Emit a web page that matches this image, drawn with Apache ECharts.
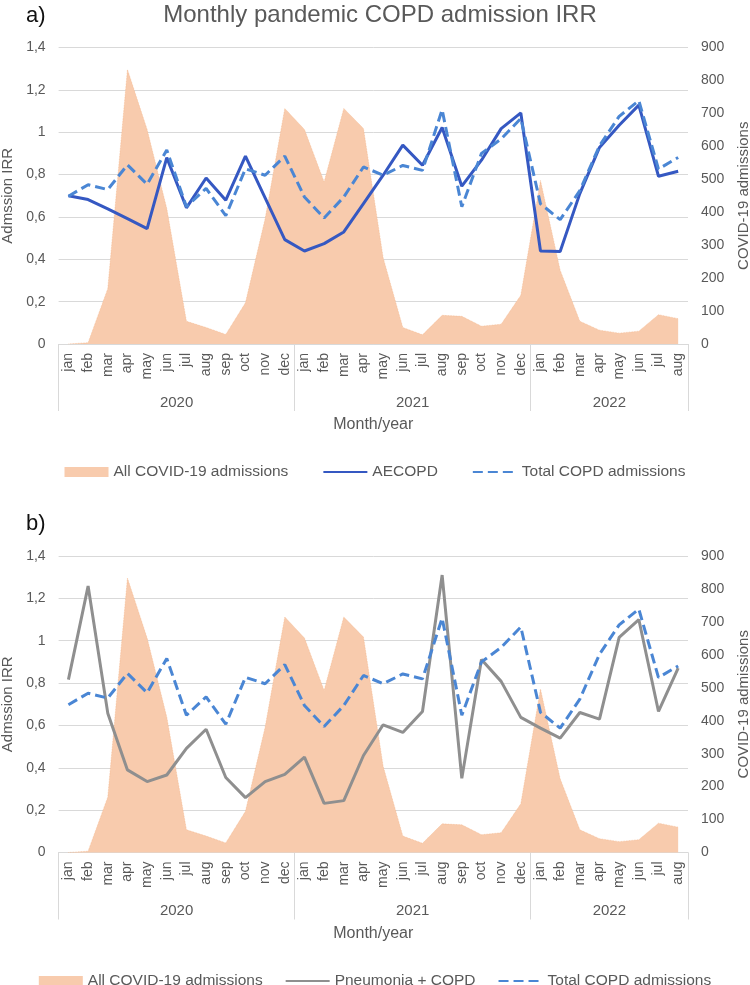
<!DOCTYPE html>
<html>
<head>
<meta charset="utf-8">
<script src="https://cdn.jsdelivr.net/npm/echarts@6/dist/echarts.min.js"></script>
<style>
  html, body { margin: 0; padding: 0; background: #fff; }
  #chart { width: 750px; height: 985px; }
</style>
</head>
<body>
<div id="chart"></div>
<script>
// month labels jan 2020 .. aug 2022
const monthNames = ['jan', 'feb', 'mar', 'apr', 'may', 'jun', 'jul', 'aug', 'sep', 'oct', 'nov', 'dec'];
const monthCats = monthNames.concat(monthNames, monthNames.slice(0, 8));
const years = ['2020', '2021', '2022'];
const yearCenters = [6, 18, 28];
const yearBreaks = [0, 12, 24, 32];

// right axis: all COVID-19 admissions
const covidAdmissions = [0, 4, 168, 833, 651, 411, 69, 50, 29, 125, 380, 715,
  651, 492, 715, 654, 262, 50, 28, 87, 84, 54, 60, 148,
  496, 224, 69, 42, 33, 39, 89, 77];

// left axis: IRR
const aecopdIrr = [0.70, 0.682, 0.638, 0.592, 0.545, 0.880, 0.643, 0.784, 0.679, 0.887, 0.69, 0.493,
  0.439, 0.474, 0.529, 0.663, 0.797, 0.939, 0.844, 1.022, 0.745, 0.868, 1.017, 1.091,
  0.439, 0.437, 0.71, 0.928, 1.033, 1.128, 0.792, 0.816];
const totalCopdIrr = [0.698, 0.752, 0.729, 0.846, 0.754, 0.916, 0.648, 0.735, 0.606, 0.827, 0.797, 0.887,
  0.694, 0.595, 0.694, 0.836, 0.797, 0.843, 0.82, 1.106, 0.648, 0.90, 0.968, 1.065,
  0.662, 0.587, 0.724, 0.936, 1.075, 1.149, 0.826, 0.881];
const pneumoniaCopdIrr = [0.816, 1.258, 0.658, 0.390, 0.335, 0.366, 0.492, 0.582, 0.354, 0.259, 0.335, 0.369,
  0.450, 0.232, 0.245, 0.458, 0.603, 0.567, 0.666, 1.310, 0.350, 0.911, 0.808, 0.638,
  0.587, 0.540, 0.661, 0.630, 1.016, 1.100, 0.666, 0.871];

const txt = '#595959';
const gridCol = '#d9d9d9';
const areaCol = '#F8CBAD';
const dashCol = '#4A86D4';
const font = 'Liberation Sans, Arial, sans-serif';

const panels = [
  { top: 47.5, tag: 'a)', tagTop: 0, legendTop: 459, legendGap: 34,
    lineName: 'AECOPD', lineData: aecopdIrr, lineColor: '#3558C2' },
  { top: 556, tag: 'b)', tagTop: 508, legendTop: 968, legendGap: 22,
    lineName: 'Pneumonia + COPD', lineData: pneumoniaCopdIrr, lineColor: '#8F8F8F' }
];

const grid = [], xAxis = [], yAxis = [], series = [], legend = [];
const title = [{
  text: 'Monthly pandemic COPD admission IRR',
  left: 375, textAlign: 'center', top: -2,
  textStyle: { fontSize: 24, fontWeight: 'normal', color: txt, fontFamily: font }
}];

panels.forEach((p, k) => {
  grid.push({ left: 58.6, right: 62, top: p.top, height: 296.5, containLabel: false, outerBoundsMode: 'none' });

  title.push({
    text: p.tag, left: 21, top: p.tagTop,
    textStyle: { fontSize: 22, fontWeight: 'normal', color: '#111', fontFamily: font }
  });

  xAxis.push({
    type: 'category', gridIndex: k, data: monthCats, boundaryGap: true,
    axisLine: { lineStyle: { color: gridCol, width: 1 } },
    axisTick: { show: false },
    axisLabel: { interval: 0, rotate: 90, margin: 9, fontSize: 14, color: txt, fontFamily: font }
  });
  xAxis.push({
    type: 'value', gridIndex: k, position: 'bottom', min: 0, max: 32,
    axisLine: { show: false },
    splitLine: { show: false },
    axisTick: { show: true, length: 67, customValues: yearBreaks, lineStyle: { color: gridCol } },
    axisLabel: {
      customValues: yearCenters, margin: 51, fontSize: 15, color: txt, fontFamily: font,
      formatter: v => years[yearCenters.indexOf(v)]
    },
    name: 'Month/year', nameLocation: 'middle', nameGap: 73,
    nameTextStyle: { fontSize: 16, color: txt, fontFamily: font }
  });

  yAxis.push({
    type: 'value', gridIndex: k, min: 0, max: 1.4, interval: 0.2,
    axisLine: { show: false }, axisTick: { show: false },
    splitLine: { lineStyle: { color: gridCol, width: 1 } },
    axisLabel: {
      margin: 13, fontSize: 14, color: txt, fontFamily: font,
      formatter: v => String(+v.toFixed(1)).replace('.', ',')
    },
    name: 'Admssion IRR', nameLocation: 'middle', nameRotate: 90, nameGap: 41,
    nameTextStyle: { fontSize: 15, color: txt, fontFamily: font }
  });
  yAxis.push({
    type: 'value', gridIndex: k, position: 'right', min: 0, max: 900, interval: 100,
    axisLine: { show: false }, axisTick: { show: false }, splitLine: { show: false },
    axisLabel: { margin: 13, fontSize: 14, color: txt, fontFamily: font },
    name: 'COVID-19 admissions', nameLocation: 'middle', nameRotate: 90, nameGap: 48,
    nameTextStyle: { fontSize: 15, color: txt, fontFamily: font }
  });

  series.push({
    name: 'All COVID-19 admissions', type: 'line', xAxisIndex: 2 * k, yAxisIndex: 2 * k + 1,
    data: covidAdmissions, symbol: 'none', z: 1,
    itemStyle: { color: areaCol },
    lineStyle: { color: '#F4B183', width: 0.8, type: 'dotted', opacity: 0.7 },
    areaStyle: { color: areaCol, opacity: 1 }
  });
  series.push({
    name: p.lineName, type: 'line', xAxisIndex: 2 * k, yAxisIndex: 2 * k,
    data: p.lineData, symbol: 'none', z: 3,
    itemStyle: { color: p.lineColor },
    lineStyle: { color: p.lineColor, width: 3 }
  });
  series.push({
    name: 'Total COPD admissions', type: 'line', xAxisIndex: 2 * k, yAxisIndex: 2 * k,
    data: totalCopdIrr, symbol: 'none', z: 4,
    itemStyle: { color: dashCol },
    lineStyle: { color: dashCol, width: 3, type: [10, 5] }
  });

  legend.push({
    top: p.legendTop, left: 'center', itemWidth: 44, itemHeight: 10, itemGap: p.legendGap,
    textStyle: { fontSize: 15.5, color: txt, fontFamily: font },
    data: [
      { name: 'All COVID-19 admissions', icon: 'rect', itemStyle: { color: areaCol } },
      { name: p.lineName, itemStyle: { opacity: 0 } },
      { name: 'Total COPD admissions', itemStyle: { opacity: 0 } }
    ]
  });
});

const chart = echarts.init(document.getElementById('chart'));
chart.setOption({
  animation: false,
  backgroundColor: '#fff',
  title, grid, xAxis, yAxis, series, legend
});
</script>
</body>
</html>
